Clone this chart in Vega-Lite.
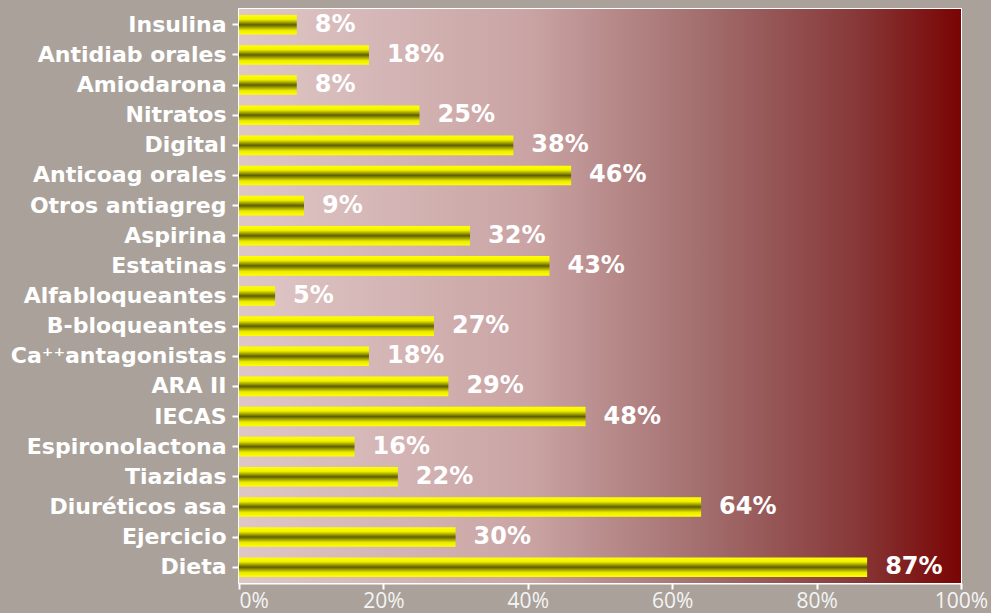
{
  "$schema": "https://vega.github.io/schema/vega-lite/v6.json",
  "autosize": "none",
  "width": 722,
  "height": 574,
  "padding": {"left": 239, "top": 9, "right": 30, "bottom": 30},
  "background": "#aaa29a",
  "config": {
    "view": {"stroke": "#ffffff", "strokeWidth": 2},
    "axis": {"grid": false, "domainColor": "#ffffff", "tickColor": "#ffffff", "domainWidth": 2, "tickWidth": 2}
  },
  "data": {
    "values": [
      {"farmaco": "Insulina", "valor": 0.08},
      {"farmaco": "Antidiab orales", "valor": 0.18},
      {"farmaco": "Amiodarona", "valor": 0.08},
      {"farmaco": "Nitratos", "valor": 0.25},
      {"farmaco": "Digital", "valor": 0.38},
      {"farmaco": "Anticoag orales", "valor": 0.46},
      {"farmaco": "Otros antiagreg", "valor": 0.09},
      {"farmaco": "Aspirina", "valor": 0.32},
      {"farmaco": "Estatinas", "valor": 0.43},
      {"farmaco": "Alfabloqueantes", "valor": 0.05},
      {"farmaco": "B-bloqueantes", "valor": 0.27},
      {"farmaco": "Ca⁺⁺antagonistas", "valor": 0.18},
      {"farmaco": "ARA II", "valor": 0.29},
      {"farmaco": "IECAS", "valor": 0.48},
      {"farmaco": "Espironolactona", "valor": 0.16},
      {"farmaco": "Tiazidas", "valor": 0.22},
      {"farmaco": "Diuréticos asa", "valor": 0.64},
      {"farmaco": "Ejercicio", "valor": 0.30},
      {"farmaco": "Dieta", "valor": 0.87}
    ]
  },
  "layer": [
    {
      "data": {"values": [{"a": 0, "b": 1}]},
      "mark": {
        "type": "rect",
        "fill": {
          "gradient": "linear", "x1": 0, "y1": 0, "x2": 1, "y2": 0,
          "stops": [
            {"offset": 0, "color": "#dfc7c7"},
            {"offset": 0.4, "color": "#caa4a4"},
            {"offset": 0.65, "color": "#a26c6c"},
            {"offset": 0.85, "color": "#883a3a"},
            {"offset": 1, "color": "#7a0404"}
          ]
        }
      },
      "encoding": {
        "x": {"field": "a", "type": "quantitative", "scale": {"domain": [0, 1]}},
        "x2": {"field": "b"}
      }
    },
    {
      "mark": {
        "type": "bar",
        "fill": {
          "gradient": "linear", "x1": 0, "y1": 0, "x2": 0, "y2": 1,
          "stops": [
            {"offset": 0, "color": "#ffff00"},
            {"offset": 0.22, "color": "#f2f200"},
            {"offset": 0.5, "color": "#5e5e00"},
            {"offset": 0.78, "color": "#eaea00"},
            {"offset": 1, "color": "#ffff00"}
          ]
        }
      },
      "encoding": {
        "y": {
          "field": "farmaco", "type": "nominal", "sort": null,
          "scale": {"paddingInner": 0.35, "paddingOuter": 0.2},
          "axis": {
            "title": null, "labelColor": "#ffffff", "labelFontWeight": "bold",
            "labelFont": "DejaVu Sans", "labelFontSize": 22, "labelLimit": 400,
            "tickSize": 7, "labelPadding": 6
          }
        },
        "x": {
          "field": "valor", "type": "quantitative",
          "scale": {"domain": [0, 1], "nice": false},
          "axis": {
            "title": null, "format": ".0%", "values": [0, 0.2, 0.4, 0.6, 0.8, 1],
            "labelColor": "#f4f4f4", "labelFont": "Open Sans", "labelFontSize": 21,
            "labelFlush": false,
            "labelAlign": {"condition": {"test": "datum.value == 0", "value": "left"}, "value": "center"},
            "tickSize": 6, "labelPadding": 1
          }
        }
      }
    },
    {
      "mark": {
        "type": "text", "align": "left", "baseline": "middle", "dx": 18,
        "color": "#ffffff", "font": "DejaVu Sans", "fontWeight": "bold", "fontSize": 24
      },
      "encoding": {
        "y": {"field": "farmaco", "type": "nominal", "sort": null},
        "x": {"field": "valor", "type": "quantitative"},
        "text": {"field": "valor", "type": "quantitative", "format": ".0%"}
      }
    }
  ]
}
